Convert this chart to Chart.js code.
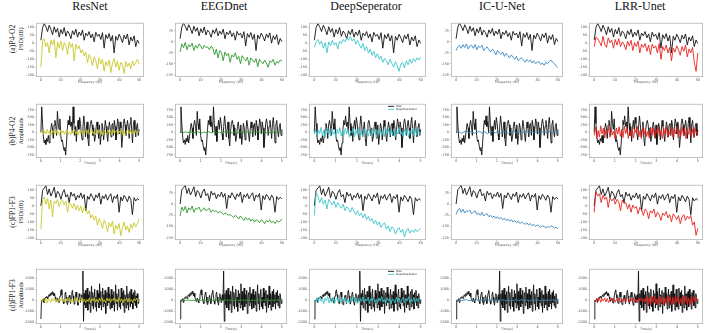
<!DOCTYPE html>
<html><head><meta charset="utf-8">
<script src="https://cdn.jsdelivr.net/npm/chart.js@4.4.1/dist/chart.umd.min.js"></script>
<style>
body{margin:0;background:#fff;width:709px;height:333px;overflow:hidden;position:relative;font-family:"Liberation Serif","Times New Roman",serif}
.t{position:absolute;top:0;font-size:12px;line-height:12px;color:#111;transform:translateX(-50%);white-space:nowrap}
.r{position:absolute;white-space:nowrap;color:#222;line-height:1}
canvas{position:absolute}
</style></head><body>
<script>
// ---------- categories / labels ----------
const methodNames = ["ResNet","EEGDnet","DeepSeperator","IC-U-Net","LRR-Unet"];
const methodColors = ["#c8c828","#2e9a2e","#3ec6cc","#3a88c2","#e8231f"];
const rowLabels = ["(a)P4-O2","(b)P4-O2","(c)FP1-F3","(d)FP1-F3"];
const rowUnits = ["PSD(dB)","Amplitude","PSD(dB)","Amplitude"];
const psdXTitle = "Frequency (Hz)";
const timeXTitle = "Time(s)";
const legendLabels = ["Raw","DeepSeparator"];

// ---------- tick labels ----------
const freqTicks = [0,10,20,30,40,50];
const timeTicks = [0,1,2,3,4,5];
const psdTicksFine = [-200,-150,-100,-50,0,50,100];
const psdTicksCoarse = [-225,-150,-75,0,75];
const ampTicksB = [-750,-500,-250,0,250,500,750];
const ampTicksD = [-2000,-1000,0,1000,2000];

// ---------- row (a) P4-O2 PSD ----------
const rawPsdA = [20,100,125,105,75,115,90,55,105,70,95,40,88,60,100,45,78,62,30,80,55,90,40,72,50,85,20,65,48,75,35,60,10,70,45,58,25,68,-30,55,30,62,15,50,-60,45,20,58,35,5,52,28,60,-10,40,15,48,-20,22,0];
const resnetPsdA = [-150,15,30,-20,5,-60,20,-10,25,-90,10,-30,15,-45,5,-15,-70,10,-25,0,-110,-5,-35,-15,-60,-40,-80,-55,-120,-70,-95,-140,-85,-110,-160,-90,-130,-100,-175,-115,-140,-105,-185,-125,-95,-150,-110,-170,-120,-135,-190,-115,-145,-125,-160,-110,-140,-120,-100,-130];
const eegdnetPsdA = [-70,-15,-40,-5,-55,-20,-35,-10,-60,-25,-45,-15,-30,-50,-25,-40,-35,-55,-30,-45,-90,-50,-110,-60,-75,-130,-70,-95,-80,-140,-90,-105,-75,-120,-100,-150,-95,-115,-130,-105,-160,-110,-125,-140,-115,-170,-120,-135,-150,-125,-145,-175,-130,-140,-120,-160,-135,-145,-125,-130];
const deepsepPsdA = [-25,10,25,-5,15,-30,5,-60,10,-15,20,-10,5,-35,15,0,25,10,35,20,45,15,30,-5,20,-10,-30,0,-45,-20,-60,-35,-75,-50,-90,-65,-100,-80,-120,-95,-110,-135,-100,-125,-150,-115,-140,-176,-130,-120,-155,-110,-135,-100,-125,-95,-115,-90,-105,-85];
const icunetPsdA = [-60,-35,-25,-45,-20,-40,-15,-50,-30,-25,-45,-20,-55,-30,-40,-25,-60,-45,-35,-55,-70,-50,-65,-90,-60,-75,-85,-70,-100,-80,-95,-110,-90,-105,-120,-100,-130,-115,-110,-125,-140,-120,-135,-125,-145,-130,-150,-140,-135,-155,-145,-160,-140,-150,-135,-125,-140,-150,-165,-176];
const lrrPsdA = [-20,40,30,10,-15,45,-5,-25,35,5,20,-30,25,-10,30,-20,10,-5,-40,15,-15,20,-45,5,-20,15,-60,-5,-25,0,-50,-10,-70,-5,-30,-15,-60,0,-100,-20,-45,-10,-60,-25,-110,-30,-55,-15,-40,-75,-20,-50,-10,-85,-35,-60,-25,-120,-176,-60];

// ---------- row (b) P4-O2 time ----------
const rawTimeB = [0,850,300,-150,-350,-250,-400,-200,-300,-100,-350,
 -150,100,300,150,-200,250,400,200,-100,700,300,
 100,450,-100,-300,-250,-450,-600,-500,-750,
 -350,100,400,250,550,200,350,0,850,300,
 -100,200,-300,150,400,100,500,300,-50,-250,200,550,250,-150,100,350,-200,-450,50,300,
 400,250,-100,150,-300,-150,200,350,100,-200,250,-400,-100,300,150,-250,50,400,200,-50,
 -300,100,350,150,-150,250,300,-100,400,200,-250,100,450,300,-50,350,150,-500,-150,300,
 450,250,-100,200,400,150,-200,300,500,100,-350,250,400,50,-150,200,300,-100,100];
const resnetTimeB = [0,60,-80,40,-50,100,-30,70,-90,20,50,-60,110,-40,30,-100,80,-20,60,-70,40,90,-50,10,-80,70,-30,100,-60,30,-90,50,-20,80,-110,40,60,-40,90,-70,20,110,-50,30,-80,60,-20,90,-60,40,-100,70,10,-50,80,-30,60,-90,100,-40,20,70,-80,50,-30,90,-60,30,-100,60,120,-40,80,-70,40,-20,90,-50,30,10];
const eegdnetTimeB = [10,-15,20,-10,25,-20,5,15,-25,10,-5,20,-15,30,-10,5,-20,15,-5,25,-15,10,-25,20,-10,5,15,-20,10,-5,25,-15,20,-10,5,-25,15,-5,20,-15];
const deepsepTimeB = [-60,120,-150,80,-40,170,-100,60,-170,130,-20,90,-130,150,-60,40,-180,110,-30,160,-120,70,-90,140,-50,100,-160,50,-10,130,-140,80,-70,170,-110,30,-150,120,-40,90,-130,60,-100,150,-20,110,-170,70,-60,140,-90,40,-140,160,-30,100,-120,80,-80,130,-150,50,-50,170,-100,20,-130,120,-70,90,-160,60,-40,150,-110,100,-90,140,-60,30];
const icunetTimeB = [-20,30,-35,15,40,-10,25,-30,5,35,-25,20,-40,10,30,-15,35,-20,0,25,-35,15,40,-5,20,-30,10,35,-25,15,-10,30,-40,20,5,-20,35,-15,25,0];
const lrrTimeB = [-100,180,-200,60,-150,220,-50,140,-190,80,-30,200,-160,120,-80,40,-220,150,-60,190,-130,90,-170,210,-40,130,-200,70,-110,160,-180,100,-20,200,-150,60,-210,170,-70,120,-140,40,-190,180,-90,150,-160,110,-30,210,-120,80,-200,140,-60,190,-170,50,-100,160,-150,120,-40,200,-180,70,-130,180,-90,140,-210,90,-60,170,-140,110,-180,150,-50,20];

// ---------- row (c) FP1-F3 PSD ----------
const rawPsdC = [0,95,110,125,70,105,60,85,115,50,90,75,40,80,100,55,70,20,85,60,75,35,65,50,80,45,70,-30,60,40,75,55,30,68,50,80,10,62,45,70,35,58,75,20,60,45,70,-40,55,30,65,48,25,60,40,-55,50,30,45,35];
const resnetPsdC = [-146,40,55,10,45,-20,35,-70,30,15,40,-5,25,35,5,30,-40,20,10,-15,15,-25,5,-30,0,-45,-10,-20,-50,-30,-75,-55,-90,-65,-120,-80,-100,-140,-90,-115,-160,-105,-130,-95,-175,-120,-145,-110,-186,-135,-100,-150,-125,-165,-115,-140,-105,-130,-110,-80];
const eegdnetPsdC = [-80,-20,-45,-15,-60,-25,-40,-13,-55,-30,-35,-20,-50,-40,-25,-45,-35,-30,-55,-40,-50,-45,-60,-50,-55,-70,-60,-65,-75,-70,-80,-90,-75,-85,-100,-80,-95,-110,-90,-105,-95,-115,-100,-120,-105,-110,-125,-105,-115,-132,-110,-120,-105,-125,-115,-130,-110,-120,-115,-100];
const deepsepPsdC = [-60,80,60,20,50,10,35,-20,40,25,5,30,-10,20,0,-15,10,-30,-5,-20,-40,-10,-35,-55,-30,-60,-45,-75,-50,-85,-65,-95,-80,-110,-90,-120,-100,-135,-115,-105,-145,-125,-160,-130,-140,-175,-150,-135,-165,-145,-193,-155,-140,-170,-150,-165,-145,-160,-150,-140];
const icunetPsdC = [-70,-40,-30,-55,-35,-60,-45,-50,-40,-65,-55,-45,-70,-60,-75,-55,-80,-70,-65,-85,-75,-90,-80,-95,-85,-100,-90,-105,-95,-110,-100,-115,-105,-120,-110,-125,-115,-130,-120,-128,-135,-125,-140,-130,-145,-135,-150,-140,-145,-155,-145,-150,-160,-150,-155,-145,-150,-160,-155,-166];
const lrrPsdC = [-40,89,60,75,20,65,40,55,-10,50,30,45,10,40,25,-30,35,15,20,-20,10,-40,5,-15,-5,-50,-10,-25,-60,-20,-35,-80,-30,-45,-20,-70,-40,-55,-90,-45,-60,-35,-75,-55,-100,-50,-65,-85,-60,-110,-70,-55,-90,-65,-80,-60,-120,-100,-183,-140];

// ---------- row (d) FP1-F3 time ----------
const rawTimeD = [-1700,0,-100,50,150,-200,100,250,200,350,
 300,150,400,500,350,600,450,700,550,800,
 600,400,650,300,100,-100,50,200,-50,-250,
 100,400,800,950,500,200,-150,-300,100,600,
 750,300,-200,-400,-100,200,450,100,-300,200,
 650,900,400,-100,-350,0,500,750,300,-150,
 -450,100,600,350,-200,200,500,0,
 2650,-1900,600,-400,900,-700,300,1100,-900,500,
 -300,800,-1100,200,1300,-500,700,-800,400,1000,
 -600,300,-1000,900,-200,600,-700,1500,-400,800,
 -900,200,1100,-600,500,-300,900,-1200,400,700,
 -500,1200,-200,600,-800,300,1000,-700,500,-400,
 800,-1000,200,1400,-300,600,-900,400,1000,-600,
 300,-800,1100,-200,700,-500,900,-1100,500,200,
 -700,1300,-400,600,-900,300,800,-600,1000,-300,
 500,-800,700,-200,900,-500,400,-700,600,200,-300,100];
const resnetTimeD = [0,-150,200,-100,150,-250,100,50,-200,180,-80,220,-160,60,-230,140,-40,250,-120,90,-200,170,-60,230,-140,30,-250,160,-90,210,-180,80,-30,240,-150,120,-220,60,-100,200,-240,150,-50,220,-170,100,-210,180,-80,250,-130,40,-230,190,-60,160,-200,110,-20,230,-190,70,-140,250,-110,130,-240,90,-50,210,-160,180,-90,60,-220,140,-30,200,-120,50];
const eegdnetTimeD = [0,20,-15,30,-25,10,-35,25,-5,35,-20,15,-30,40,-10,20,-25,5,30,-15,25,-35,10,-20,35,-5,20,-30,15,-10,40,-25,5,25,-35,15,-15,30,-5,10];
const deepsepTimeD = [0,-200,250,-150,300,-100,150,-300,200,-50,350,-250,100,-180,280,-320,60,220,-140,310,-260,130,-30,270,-210,90,-340,190,-80,330,-170,240,-290,40,180,-120,300,-230,110,-60,290,-310,150,-20,260,-190,80,-270,210,-100,340,-150,50,-280,230,-70,170,-330,120,20,-240,300,-110,200,-300,70,250,-180,130,-40,320,-220,90,-130,270,-260,160,-90,210,0];
const icunetTimeD = [0,40,-50,20,60,-30,10,-60,45,-15,30,-45,55,-20,5,-55,35,-10,50,-40,25,-60,15,45,-25,60,-35,10,-50,30,-5,55,-45,20,-30,40,-15,50,-55,0];
const lrrTimeD = [0,-150,180,-100,200,-180,120,-60,220,-140,160,-200,80,190,-120,210,-170,100,-50,230,-190,140,-90,200,-160,60,180,-210,120,-80,240,-150,90,-220,170,-30,200,-180,130,-100,420,-380,250,-450,350,-200,400,-320,150,-420,380,-250,300,-400,200,-350,450,-150,320,-380,260,-430,350,-180,410,-300,150,-400,330,-220,400,-350,200,-450,300,-250,380,-150,250,-100];

const rawSeries = [rawPsdA, rawTimeB, rawPsdC, rawTimeD];
const methodSeries = [
  [resnetPsdA, eegdnetPsdA, deepsepPsdA, icunetPsdA, lrrPsdA],
  [resnetTimeB, eegdnetTimeB, deepsepTimeB, icunetTimeB, lrrTimeB],
  [resnetPsdC, eegdnetPsdC, deepsepPsdC, icunetPsdC, lrrPsdC],
  [resnetTimeD, eegdnetTimeD, deepsepTimeD, icunetTimeD, lrrTimeD]
];
const freqSpanHz = 50;
const timeSpanS = 5;

// ---------- layout (positions only) ----------
const colLeft = [36,175,309,451,589];
const colWidth = [108,112,117,112,114];
const titleCenter = [90,224,366,502,640];
const rowTop = [22,103,184,268];
const rowHeight = [55,55,56,56];
const rowLabelCenter = [39,131,212,295];
const padL = 12, padT = 2, padR = 2, padB = 7;

methodNames.forEach((n,c)=>{
  const d=document.createElement('div'); d.className='t'; d.textContent=n;
  d.style.left=titleCenter[c]+'px'; document.body.appendChild(d);
});
rowLabels.forEach((n,r)=>{
  const a=document.createElement('div'); a.className='r'; a.textContent=n;
  a.style.fontSize='9px'; a.style.left='12px'; a.style.top=rowLabelCenter[r]+'px';
  a.style.transform='translate(-50%,-50%) rotate(-90deg) scaleX(0.85)';
  document.body.appendChild(a);
  const b=document.createElement('div'); b.className='r'; b.textContent=rowUnits[r];
  b.style.fontSize='7px'; b.style.left='21px'; b.style.top=rowLabelCenter[r]+'px';
  b.style.transform='translate(-50%,-50%) rotate(-90deg) scaleX(0.9)';
  document.body.appendChild(b);
});

const framePlugin = {
  id:'frame',
  afterDatasetsDraw(chart){
    const a=chart.chartArea, ctx=chart.ctx;
    ctx.save(); ctx.strokeStyle='#b4b4b4'; ctx.lineWidth=0.8;
    ctx.strokeRect(a.left+0.4,a.top+0.4,a.right-a.left-0.8,a.bottom-a.top-0.8);
    ctx.restore();
  }
};
function legendPlugin(color){
  return {
    id:'miniLegend',
    afterDatasetsDraw(chart){
      const a=chart.chartArea, ctx=chart.ctx;
      const x=a.right-38, y=a.top+2.5;
      ctx.save();
      ctx.fillStyle='rgba(255,255,255,0.85)';
      ctx.fillRect(x-1.5,y-1.5,37,6.5);
      ctx.lineWidth=0.9;
      ctx.strokeStyle='#111'; ctx.beginPath(); ctx.moveTo(x,y); ctx.lineTo(x+6,y); ctx.stroke();
      ctx.strokeStyle=color; ctx.beginPath(); ctx.moveTo(x,y+3); ctx.lineTo(x+6,y+3); ctx.stroke();
      ctx.fillStyle='#333'; ctx.font='2.8px "DejaVu Sans"'; ctx.textBaseline='middle';
      ctx.fillText(legendLabels[0],x+8,y);
      ctx.fillText(legendLabels[1],x+8,y+3);
      ctx.restore();
    }
  };
}

function yRange(r,c){
  if(r===1) return {min:-850,max:950,ticks:ampTicksB};
  if(r===3) return {min:-2150,max:2850,ticks:ampTicksD};
  if(c===1||c===3) return {min:-240,max:128,ticks:psdTicksCoarse};
  return {min:-212,max:130,ticks:psdTicksFine};
}
const setTicks = arr => s => { s.ticks = arr.map(v=>({value:v})); };

for(let r=0;r<4;r++){
  for(let c=0;c<5;c++){
    const L=colLeft[c], T=rowTop[r], W=colWidth[c], H=rowHeight[r];
    const cv=document.createElement('canvas');
    cv.width=W+padL+padR; cv.height=H+padT+padB;
    cv.style.left=(L-padL)+'px'; cv.style.top=(T-padT)+'px';
    document.body.appendChild(cv);
    const isPsd = (r===0||r===2);
    const span = isPsd?freqSpanHz:timeSpanS;
    const toXY = arr => arr.map((v,i)=>({x:i*span/(arr.length-1), y:v}));
    const yr = yRange(r,c);
    const tickFont = {size:3.4, family:'"DejaVu Sans"'};
    const plugins=[framePlugin];
    if(c===2 && (r===1||r===3)) plugins.push(legendPlugin(methodColors[c]));
    new Chart(cv,{
      type:'line',
      data:{datasets:[
        {label:methodNames[c], data:toXY(methodSeries[r][c]), borderColor:methodColors[c], borderWidth:0.9, pointRadius:0, tension:0, fill:false},
        {label:legendLabels[0], data:toXY(rawSeries[r]), borderColor:'#111', borderWidth:0.9, pointRadius:0, tension:0, fill:false}
      ]},
      options:{
        responsive:false, animation:false, devicePixelRatio:1,
        layout:{padding:{top:padT,right:padR,left:0,bottom:0}},
        plugins:{legend:{display:false},tooltip:{enabled:false}},
        scales:{
          x:{type:'linear', min:isPsd?-2.5:-0.25, max:isPsd?52.5:5.25,
             afterBuildTicks:setTicks(isPsd?freqTicks:timeTicks),
             ticks:{font:tickFont, color:'#555', padding:0.3, maxRotation:0, autoSkip:false, callback:v=>String(v)},
             grid:{display:true, drawOnChartArea:false, tickLength:1.2, color:'#999', lineWidth:0.5},
             border:{display:false},
             title:{display:true, text:isPsd?psdXTitle:timeXTitle, font:{size:3.2,family:'"DejaVu Sans"'}, color:'#555', padding:0},
             afterFit:s=>{s.height=padB;}
          },
          y:{min:yr.min, max:yr.max,
             afterBuildTicks:setTicks(yr.ticks),
             ticks:{font:tickFont, color:'#555', padding:0.8, autoSkip:false, callback:v=>String(v)},
             grid:{display:true, drawOnChartArea:false, tickLength:1.2, color:'#999', lineWidth:0.5},
             border:{display:false},
             afterFit:s=>{s.width=padL;}
          }
        }
      },
      plugins
    });
  }
}
</script>
</body></html>
